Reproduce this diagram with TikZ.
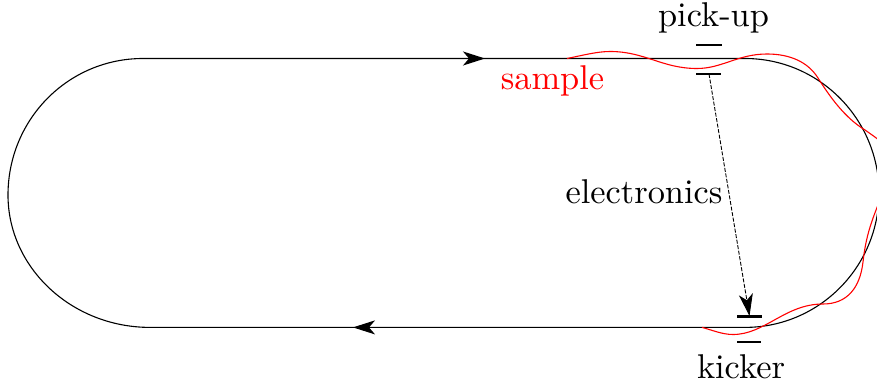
\documentclass[tikz,border=0pt]{standalone}
\usetikzlibrary{arrows.meta}
\tikzset{
  track/.style={black,line width=1.1pt},
  flow/.style={track,-{Stealth[length=22pt,width=14pt,inset=6pt]}},
  plate/.style={black,line width=2.4pt},
  signal/.style={black,line width=0.9pt,dash pattern=on 4pt off 1.6pt,-{Stealth[length=22pt,width=14pt,inset=6pt]}},
  sampleline/.style={red,line width=1.1pt},
  lab/.style={font=\fontsize{10}{12}\selectfont,scale=3.44,inner sep=0pt,anchor=base},
}
\begin{document}
\begin{tikzpicture}[x=1pt,y=-1pt]
\useasboundingbox (0,0) rectangle (877,387);
\clip (0,0) rectangle (877,387);
% named points
\coordinate (tl) at (143,58.5);
\coordinate (tr) at (745,58.5);
\coordinate (bl) at (150,327.4);
\coordinate (br) at (745,327.4);
\coordinate (a1s) at (354,58.5);
\coordinate (a1e) at (485,58.5);
\coordinate (a2s) at (482,327.4);
\coordinate (a2e) at (353,327.4);
\coordinate (pu1l) at (696,45);
\coordinate (pu1r) at (722,45);
\coordinate (pu2l) at (696,74);
\coordinate (pu2r) at (721,74);
\coordinate (pu2c) at (709,74);
\coordinate (k1l) at (737,316.5);
\coordinate (k1r) at (762,316.5);
\coordinate (k1c) at (749.5,316);
\coordinate (k2l) at (737,342);
\coordinate (k2r) at (761,342);
% track
\draw[track] (bl) -- (br)
  .. controls (819,327.4) and (879,267) .. (879,193)
  .. controls (879,119) and (819,58.5) .. (tr)
  -- (tl)
  .. controls (68,58.5) and (8,119.5) .. (8,195)
  .. controls (8,268) and (72,327.4) .. (bl);
\draw[flow] (a1s) -- (a1e);
\draw[flow] (a2s) -- (a2e);
% sample
\draw[sampleline] (567,58.5)
  .. controls (582,55.5) and (597,51.5) .. (610,51.5)
  .. controls (645,51.5) and (662,68.5) .. (697,68.5)
  .. controls (722,68.5) and (738,54) .. (767,54)
  .. controls (790,54) and (808,62) .. (818,78)
  .. controls (830,97) and (845,118) .. (865,130)
  .. controls (872,135) and (880,140) .. (890,150);
\draw[sampleline] (880,200)
  .. controls (872,220) and (866,235) .. (863,262)
  .. controls (860,288) and (847,304) .. (823,304)
  .. controls (785,304) and (765,334.5) .. (733,334.5)
  .. controls (722,334.5) and (712,330) .. (702,327.4);
% plates
\draw[plate] (pu1l) -- (pu1r);
\draw[plate] (pu2l) -- (pu2r);
\draw[plate] (k1l) -- (k1r);
\draw[plate] (k2l) -- (k2r);
\draw[signal] (pu2c) -- (k1c);
% labels
\node[lab] (pick) at (713.5,27) {pick-up};
\node[lab,red] (sample) at (552.5,90) {sample};
\node[lab] (elec) at (644,204) {electronics};
\node[lab] (kick) at (741,378) {kicker};
\end{tikzpicture}
\end{document}
